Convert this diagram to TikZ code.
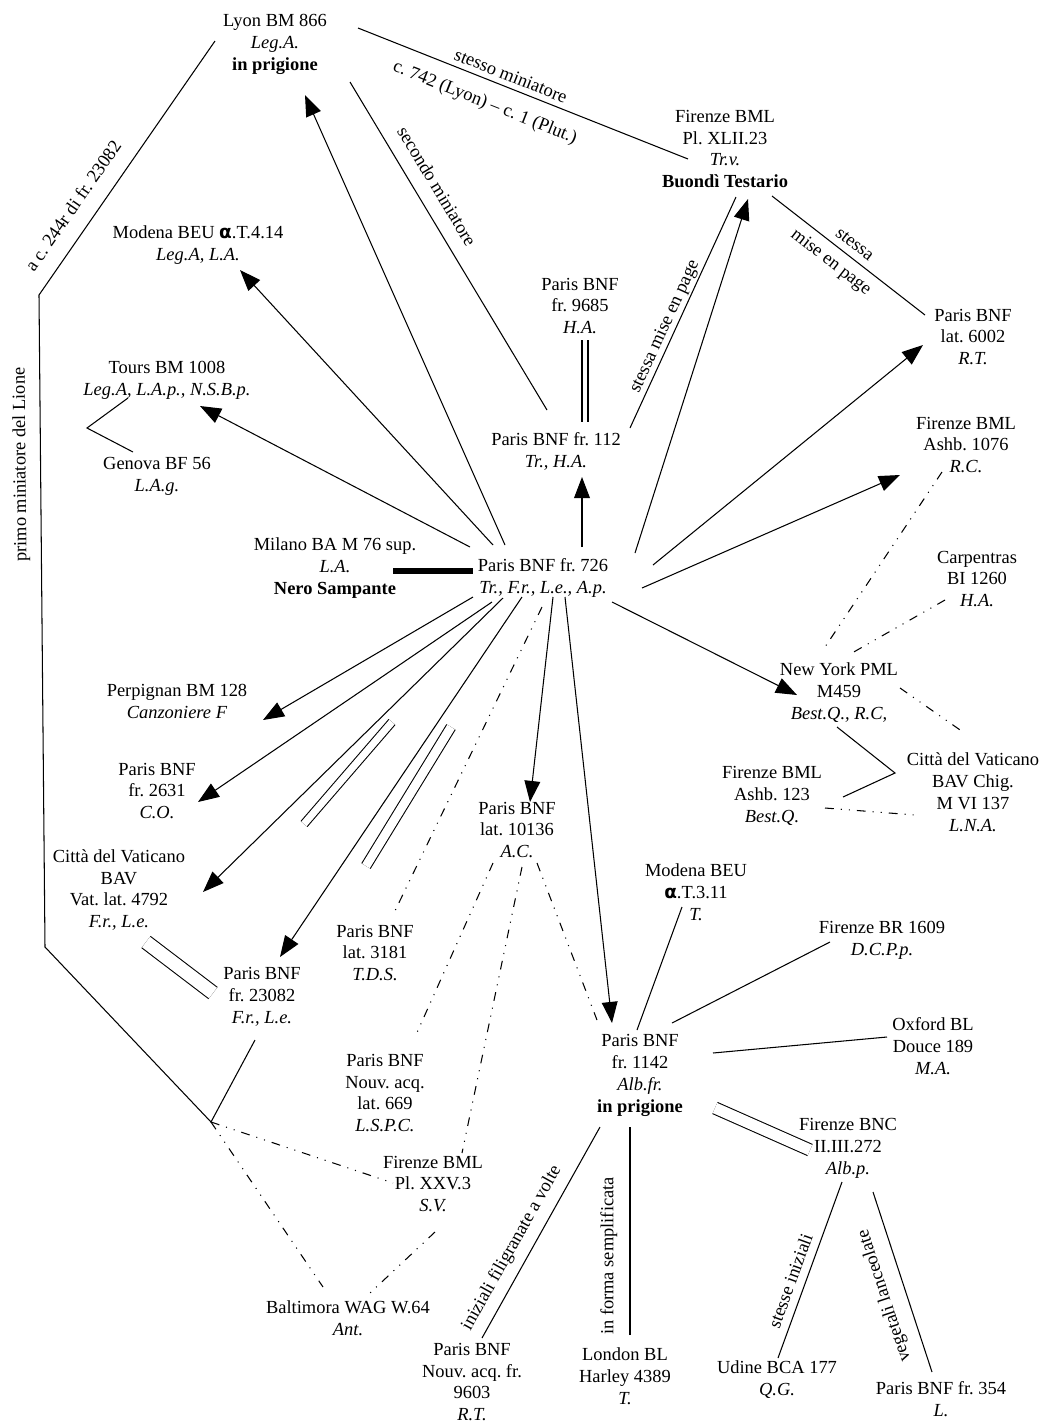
\documentclass[tikz,border=0pt]{standalone}
\usepackage{fontspec}
\setmainfont{Liberation Serif}
\newfontfamily\alfont{DejaVu Sans}
\newcommand{\alf}{{\alfont\bfseries α}}
\frenchspacing
\usetikzlibrary{arrows.meta}

\begin{document}
\begin{tikzpicture}[x=0.02cm,y=-0.02cm,line width=0.6pt,
  ms/.style={align=center,inner sep=1pt,font=\fontsize{10.5}{12.5}\selectfont},
  lbl/.style={sloped,allow upside down,inner sep=1pt,font=\fontsize{10.5}{12.5}\selectfont},
  arr/.style={-{Triangle[length=12pt,width=9pt]}},
  ddot/.style={dash pattern=on 5pt off 4pt on 0.6pt off 4pt on 0.6pt off 4pt},
  dbl/.style={double,double distance=#1},dbl/.default=3pt]
\useasboundingbox (0,0) rectangle (1047,1424);

%%%%%%%%%%%%%%%%%%%%%%%%%%%%
\node[ms] (lyon) at (275,44) {Lyon BM 866\\\textit{Leg.A.}\\\textbf{in prigione}};
\node[ms] (plut42) at (725,149) {Firenze BML\\Pl. XLII.23\\\textit{Tr.v.}\\\textbf{Buondì Testario}};
\node[ms] (modena414) at (198,245) {Modena BEU \alf.T.4.14\\\textit{Leg.A, L.A.}};
\node[ms] (fr9685) at (580,306) {Paris BNF\\fr. 9685\\\textit{H.A.}};
\node[ms] (lat6002) at (973,337) {Paris BNF\\lat. 6002\\\textit{R.T.}};
\node[ms] (tours) at (167,380) {Tours BM 1008\\\textit{Leg.A, L.A.p., N.S.B.p.}};
\node[ms] (fr112) at (556,451) {Paris BNF fr. 112\\\textit{Tr., H.A.}};
\node[ms] (ashb1076) at (966,445) {Firenze BML\\Ashb. 1076\\\textit{R.C.}};
\node[ms] (genova) at (157,476) {Genova BF 56\\\textit{L.A.g.}};
\node[ms] (milano) at (335,568) {Milano BA M 76 sup.\\\textit{L.A.}\\\textbf{Nero Sampante}};
\node[ms] (fr726) at (543,578) {Paris BNF fr. 726\\\textit{Tr., F.r., L.e., A.p.}};
\node[ms] (carp) at (977,579) {Carpentras\\BI 1260\\\textit{H.A.}};
\node[ms] (nypml) at (839,693) {New York PML\\M459\\\textit{Best.Q., R.C,}};
\node[ms] (perp) at (177,701) {Perpignan BM 128\\\textit{Canzoniere F}};
\node[ms] (chig) at (973,792) {Città del Vaticano\\BAV Chig.\\M VI 137\\\textit{L.N.A.}};
\node[ms] (ashb123) at (772,796) {Firenze BML\\Ashb. 123\\\textit{Best.Q.}};
\node[ms] (fr2631) at (157,791) {Paris BNF\\fr. 2631\\\textit{C.O.}};
\node[ms] (lat10136) at (517,830) {Paris BNF\\lat. 10136\\\textit{A.C.}};
\node[ms] (vat4792) at (119,890) {Città del Vaticano\\BAV\\Vat. lat. 4792\\\textit{F.r., L.e.}};
\node[ms] (modena311) at (696,892) {Modena BEU\\\alf.T.3.11\\\textit{T.}};
\node[ms] (lat3181) at (375,953) {Paris BNF\\lat. 3181\\\textit{T.D.S.}};
\node[ms] (ricc) at (882,940) {Firenze BR 1609\\\textit{D.C.P.p.}};
\node[ms] (fr23082) at (262,997) {Paris BNF\\fr. 23082\\\textit{F.r., L.e.}};
\node[ms] (douce) at (933,1046) {Oxford BL\\Douce 189\\\textit{M.A.}};
\node[ms] (lat669) at (385,1093) {Paris BNF\\Nouv. acq.\\lat. 669\\\textit{L.S.P.C.}};
\node[ms] (fr1142) at (640,1075) {Paris BNF\\fr. 1142\\\textit{Alb.fr.}\\\textbf{in prigione}};
\node[ms] (bnc) at (848,1148) {Firenze BNC\\II.III.272\\\textit{Alb.p.}};
\node[ms] (plut25) at (433,1184) {Firenze BML\\Pl. XXV.3\\\textit{S.V.}};
\node[ms] (walters) at (348,1318) {Baltimora WAG W.64\\\textit{Ant.}};
\node[ms] (naf9603) at (472,1382) {Paris BNF\\Nouv. acq. fr.\\9603\\\textit{R.T.}};
\node[ms] (harley) at (625,1376) {London BL\\Harley 4389\\\textit{T.}};
\node[ms] (udine) at (777,1380) {Udine BCA 177\\\textit{Q.G.}};
\node[ms] (fr354) at (941,1399) {Paris BNF fr. 354\\\textit{L.}};

\coordinate (c1) at (39,295);
\coordinate (c2) at (45,947);
\coordinate (j) at (211,1122);
\coordinate (v1) at (87,428);
\coordinate (v2) at (895,773);
\coordinate (p1a) at (392,722);
\coordinate (p1b) at (304,824);
\coordinate (p2a) at (451,727);
\coordinate (p2b) at (366,866);

%%%%%%%%%%%%%%%%%%%%%%%%%%%% arrows out of fr. 726
\draw[arr] ([shift={(-38,-33)}]fr726.center) -- ([shift={(30,51)}]lyon.center);
\draw[arr] ([shift={(-50,-33)}]fr726.center) -- ([shift={(42,25)}]modena414.center);
\draw[arr] ([shift={(-73,-31)}]fr726.center) -- ([shift={(33,26)}]tours.center);
\draw[arr] ([shift={(39,-31)}]fr726.center) -- ([shift={(26,26)}]fr112.center);
\draw[arr] ([shift={(92,-25)}]fr726.center) -- ([shift={(23,50)}]plut42.center);
\draw[arr] ([shift={(110,-13)}]fr726.center) -- ([shift={(-50,8)}]lat6002.center);
\draw[arr] ([shift={(99,10)}]fr726.center) -- ([shift={(-66,30)}]ashb1076.center);
\draw[arr] ([shift={(69,24)}]fr726.center) -- ([shift={(-42,2)}]nypml.center);
\draw[arr] ([shift={(-70,19)}]fr726.center) -- ([shift={(86,19)}]perp.center);
\draw[arr] ([shift={(-51,24)}]fr726.center) -- ([shift={(41,11)}]fr2631.center);
\draw[arr] ([shift={(-40,20)}]fr726.center) -- ([shift={(84,2)}]vat4792.center);
\draw[arr] ([shift={(-21,19)}]fr726.center) -- ([shift={(18,-40)}]fr23082.center);
\draw[arr] ([shift={(10,19)}]fr726.center) -- ([shift={(13,-28)}]lat10136.center);
\draw[arr] ([shift={(22,19)}]fr726.center) -- ([shift={(-28,-52)}]fr1142.center);
\draw[line width=3pt] ([shift={(58,3)}]milano.center) -- ([shift={(-70,-7)}]fr726.center);
\draw[ddot] ([shift={(-1,29)}]fr726.center) -- ([shift={(18,-38)}]lat3181.center);
\draw[dbl=4pt] (p1a) -- (p1b);
\draw[dbl=5pt] (p2a) -- (p2b);

%%%%%%%%%%%%%%%%%%%%%%%%%%%% top
\draw ([shift={(83,-16)}]lyon.center) -- ([shift={(-37,10)}]plut42.center)
  node[lbl,pos=0.45,above=2pt] {stesso miniatore}
  node[lbl,pos=0.41,below=7pt] {c. 742 (Lyon) -- c. 1 (Plut.)};
\draw ([shift={(75,38)}]lyon.center) -- ([shift={(-9,-41)}]fr112.center)
  node[lbl,pos=0.35,above=7pt] {secondo miniatore};
\draw[dbl=2.8pt] ([shift={(5,34)}]fr9685.center) -- ([shift={(29,-29)}]fr112.center);
\draw ([shift={(74,-23)}]fr112.center) -- ([shift={(11,48)}]plut42.center)
  node[lbl,pos=0.42,above=0pt] {stessa mise en page};
\draw ([shift={(47,47)}]plut42.center) -- ([shift={(-48,-22)}]lat6002.center)
  node[lbl,pos=0.49,above=3pt] {stessa}
  node[lbl,pos=0.45,below=3.5pt] {mise en page};

%%%%%%%%%%%%%%%%%%%%%%%%%%%% left
\draw ([shift={(-39,18)}]tours.center) -- (v1) -- ([shift={(-24,-24)}]genova.center);
\draw ([shift={(-7,43)}]fr23082.center) -- (j) -- (c2)
  -- node[lbl,pos=0.74,above=5pt] {primo miniatore del Lione} (c1)
  -- node[lbl,pos=0.30,above=8pt] {a c. 244r di fr. 23082} ([shift={(-60,-3)}]lyon.center);
\draw[dbl=7.5pt] ([shift={(27,52)}]vat4792.center) -- ([shift={(-49,-4)}]fr23082.center);
\draw[ddot] (j) -- ([shift={(-40,-1)}]plut25.center);
\draw[ddot] (j) -- ([shift={(-25,-31)}]walters.center);
\draw[ddot] ([shift={(2,48)}]plut25.center) -- ([shift={(22,-25)}]walters.center);

%%%%%%%%%%%%%%%%%%%%%%%%%%%% right
\draw[ddot] ([shift={(-24,27)}]ashb1076.center) -- ([shift={(-16,-43)}]nypml.center);
\draw[ddot] ([shift={(-32,21)}]carp.center) -- ([shift={(13,-40)}]nypml.center);
\draw[ddot] ([shift={(61,-5)}]nypml.center) -- ([shift={(-10,-60)}]chig.center);
\draw ([shift={(-2,34)}]nypml.center) -- (v2) -- ([shift={(71,1)}]ashb123.center);
\draw[ddot] ([shift={(53,12)}]ashb123.center) -- ([shift={(-58,23)}]chig.center);

%%%%%%%%%%%%%%%%%%%%%%%%%%%% lat. 10136 and fr. 1142
\draw[ddot] ([shift={(-24,33)}]lat10136.center) -- ([shift={(30,-56)}]lat669.center);
\draw[ddot] ([shift={(5,37)}]lat10136.center) -- ([shift={(29,-31)}]plut25.center);
\draw[ddot] ([shift={(20,33)}]lat10136.center) -- ([shift={(-43,-55)}]fr1142.center);
\draw ([shift={(-14,15)}]modena311.center) -- ([shift={(-3,-45)}]fr1142.center);
\draw ([shift={(-52,2)}]ricc.center) -- ([shift={(32,-52)}]fr1142.center);
\draw ([shift={(-46,-9)}]douce.center) -- ([shift={(73,-22)}]fr1142.center);
\draw[dbl=6.3pt] ([shift={(75,33)}]fr1142.center) -- ([shift={(-38,2)}]bnc.center);
\draw ([shift={(10,-44)}]naf9603.center) -- ([shift={(-40,52)}]fr1142.center)
  node[lbl,pos=0.385,above=4pt] {iniziali filigranate a volte};
\draw ([shift={(5,-41)}]harley.center) -- ([shift={(-10,52)}]fr1142.center)
  node[lbl,pos=0.38,above=6pt] {in forma semplificata};
\draw ([shift={(1,-22)}]udine.center) -- ([shift={(-6,34)}]bnc.center)
  node[lbl,pos=0.41,above=3.5pt] {stesse iniziali};
\draw ([shift={(-9,-27)}]fr354.center) -- ([shift={(25,44)}]bnc.center)
  node[lbl,pos=0.46,above=6pt] {vegetali lanceolate};
\end{tikzpicture}
\end{document}
